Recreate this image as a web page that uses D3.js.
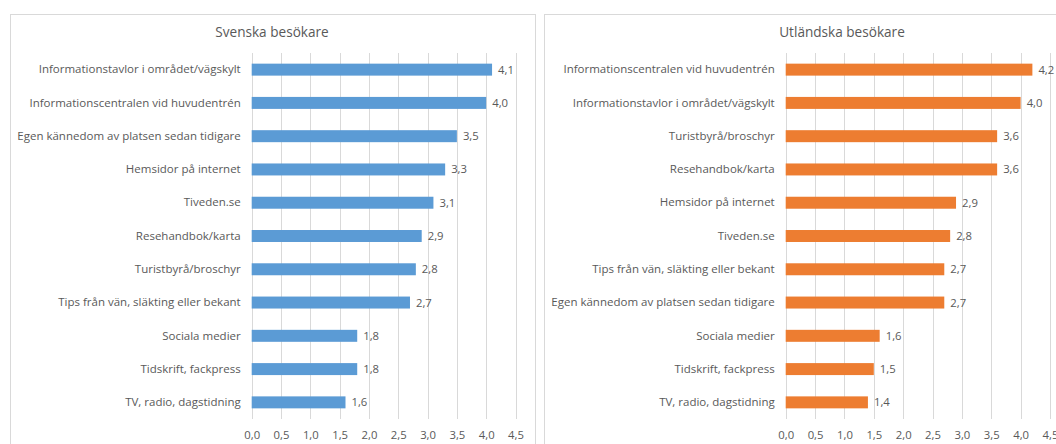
<!DOCTYPE html>
<html><head><meta charset="utf-8">
<script src="https://cdn.jsdelivr.net/npm/d3@7"></script>
<style>
body{margin:0;background:#fff;}
text{font-family:"Open Sans","Noto Sans",sans-serif;fill:#595959;}
</style></head>
<body><svg id="c" width="1056" height="444"></svg>
<script>
const swedishCategories = ["Informationstavlor i området/vägskylt","Informationscentralen vid huvudentrén","Egen kännedom av platsen sedan tidigare","Hemsidor på internet","Tiveden.se","Resehandbok/karta","Turistbyrå/broschyr","Tips från vän, släkting eller bekant","Sociala medier","Tidskrift, fackpress","TV, radio, dagstidning"];
const swedishValues = [4.1,4.0,3.5,3.3,3.1,2.9,2.8,2.7,1.8,1.8,1.6];
const foreignCategories = ["Informationscentralen vid huvudentrén","Informationstavlor i området/vägskylt","Turistbyrå/broschyr","Resehandbok/karta","Hemsidor på internet","Tiveden.se","Tips från vän, släkting eller bekant","Egen kännedom av platsen sedan tidigare","Sociala medier","Tidskrift, fackpress","TV, radio, dagstidning"];
const foreignValues = [4.2,4.0,3.6,3.6,2.9,2.8,2.7,2.7,1.6,1.5,1.4];
const tickValues = [0,0.5,1,1.5,2,2.5,3,3.5,4,4.5];
const titles = ["Svenska besökare","Utländska besökare"];

const svg = d3.select("#c");
const fmt = v => d3.format(".1f")(v).replace(".", ",");

const panels = [
  {title:titles[0], cats:swedishCategories, vals:swedishValues, color:"#5B9BD5",
   box:[10.5,14.5,525,440], x0:251.7, x1:515.5, titleX:272},
  {title:titles[1], cats:foreignCategories, vals:foreignValues, color:"#ED7D31",
   box:[544.5,14.5,560,440], x0:785.7, x1:1050, titleX:842}
];

panels.forEach(p => {
  const g = svg.append("g");
  g.append("rect").attr("x",p.box[0]).attr("y",p.box[1]).attr("width",p.box[2]).attr("height",p.box[3])
    .attr("fill","#fff").attr("stroke","#D9D9D9").attr("stroke-width",1);
  g.append("text").attr("x",p.titleX).attr("y",37).attr("text-anchor","middle")
    .style("font-size","13.6px").text(p.title);

  const x = d3.scaleLinear().domain([0,4.5]).range([p.x0,p.x1]);
  const y = d3.scaleBand().domain(p.cats).range([53,419]).paddingInner(0.64).paddingOuter(0.32);

  g.append("g").selectAll("line").data(tickValues).join("line")
    .attr("x1",d=>Math.round(x(d))+0.5).attr("x2",d=>Math.round(x(d))+0.5)
    .attr("y1",53).attr("y2",419).attr("stroke","#D9D9D9").attr("stroke-width",1);

  const xa = g.append("g").attr("transform","translate(0,419)")
    .call(d3.axisBottom(x).tickValues(tickValues).tickFormat(fmt).tickSize(0).tickPadding(12));
  xa.select(".domain").remove();
  xa.selectAll("text").style("font-size","11.3px").attr("fill","#595959").style("font-family",null);

  const ya = g.append("g").attr("transform",`translate(${p.x0},0)`)
    .call(d3.axisLeft(y).tickSize(0).tickPadding(11));
  ya.select(".domain").remove();
  ya.selectAll("text").style("font-size","11.5px").attr("fill","#595959").style("font-family",null);

  g.append("g").selectAll("rect").data(p.vals).join("rect")
    .attr("x",x(0)).attr("y",(d,i)=>y(p.cats[i]))
    .attr("width",d=>x(d)-x(0)).attr("height",y.bandwidth())
    .attr("fill",p.color);

  g.append("g").selectAll("text").data(p.vals).join("text")
    .attr("x",d=>x(d)+6).attr("y",(d,i)=>y(p.cats[i])+y.bandwidth()/2)
    .attr("dy","0.35em").style("font-size","11.3px").text(fmt);
});
</script></body></html>
